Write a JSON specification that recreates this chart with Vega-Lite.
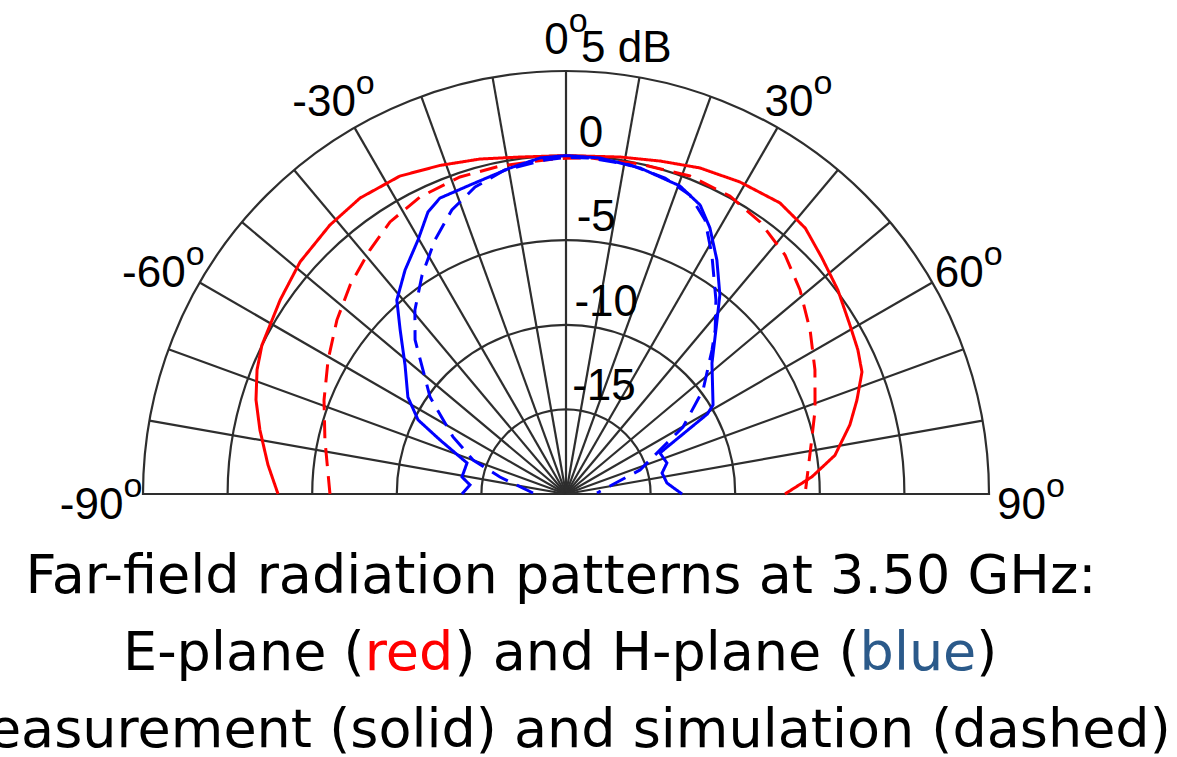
{
  "$schema": "https://vega.github.io/schema/vega-lite/v6.json",
  "width": 1177,
  "height": 757,
  "padding": 0,
  "autosize": {"type": "none"},
  "background": "white",
  "config": {
    "view": {"stroke": null},
    "axis": {"disable": true}
  },
  "datasets": {
    "patterns": [
      {"plane": "E-plane", "method": "measurement", "angle": -90, "db": -2.98},
      {"plane": "E-plane", "method": "measurement", "angle": -84.4, "db": -2.3},
      {"plane": "E-plane", "method": "measurement", "angle": -78.2, "db": -1.52},
      {"plane": "E-plane", "method": "measurement", "angle": -73.1, "db": -0.85},
      {"plane": "E-plane", "method": "measurement", "angle": -68.1, "db": -0.32},
      {"plane": "E-plane", "method": "measurement", "angle": -63.9, "db": 0.01},
      {"plane": "E-plane", "method": "measurement", "angle": -55.8, "db": 0.42},
      {"plane": "E-plane", "method": "measurement", "angle": -48.9, "db": 0.86},
      {"plane": "E-plane", "method": "measurement", "angle": -41.3, "db": 1.15},
      {"plane": "E-plane", "method": "measurement", "angle": -34.8, "db": 1.31},
      {"plane": "E-plane", "method": "measurement", "angle": -27.6, "db": 1.2},
      {"plane": "E-plane", "method": "measurement", "angle": -21.0, "db": 0.8},
      {"plane": "E-plane", "method": "measurement", "angle": -14.4, "db": 0.44},
      {"plane": "E-plane", "method": "measurement", "angle": -7.8, "db": 0.1},
      {"plane": "E-plane", "method": "measurement", "angle": 0, "db": 0},
      {"plane": "E-plane", "method": "measurement", "angle": 9.1, "db": 0.17},
      {"plane": "E-plane", "method": "measurement", "angle": 15.8, "db": 0.45},
      {"plane": "E-plane", "method": "measurement", "angle": 22.3, "db": 0.83},
      {"plane": "E-plane", "method": "measurement", "angle": 29.1, "db": 1.11},
      {"plane": "E-plane", "method": "measurement", "angle": 36.3, "db": 1.35},
      {"plane": "E-plane", "method": "measurement", "angle": 42.0, "db": 1.14},
      {"plane": "E-plane", "method": "measurement", "angle": 47.3, "db": 0.58},
      {"plane": "E-plane", "method": "measurement", "angle": 53.1, "db": 0.09},
      {"plane": "E-plane", "method": "measurement", "angle": 59.2, "db": -0.47},
      {"plane": "E-plane", "method": "measurement", "angle": 63.7, "db": -0.76},
      {"plane": "E-plane", "method": "measurement", "angle": 67.6, "db": -1.08},
      {"plane": "E-plane", "method": "measurement", "angle": 72.1, "db": -1.93},
      {"plane": "E-plane", "method": "measurement", "angle": 76.3, "db": -2.73},
      {"plane": "E-plane", "method": "measurement", "angle": 81.8, "db": -3.94},
      {"plane": "E-plane", "method": "measurement", "angle": 86.0, "db": -5.43},
      {"plane": "E-plane", "method": "measurement", "angle": 90, "db": -7.06},

      {"plane": "E-plane", "method": "simulation", "angle": -90, "db": -6.05},
      {"plane": "E-plane", "method": "simulation", "angle": -77.4, "db": -5.4},
      {"plane": "E-plane", "method": "simulation", "angle": -68.8, "db": -4.66},
      {"plane": "E-plane", "method": "simulation", "angle": -60.6, "db": -3.86},
      {"plane": "E-plane", "method": "simulation", "angle": -52.8, "db": -3.0},
      {"plane": "E-plane", "method": "simulation", "angle": -45.9, "db": -2.24},
      {"plane": "E-plane", "method": "simulation", "angle": -38.8, "db": -1.5},
      {"plane": "E-plane", "method": "simulation", "angle": -32.9, "db": -0.85},
      {"plane": "E-plane", "method": "simulation", "angle": -26.2, "db": -0.44},
      {"plane": "E-plane", "method": "simulation", "angle": -18.5, "db": -0.24},
      {"plane": "E-plane", "method": "simulation", "angle": -11.4, "db": -0.23},
      {"plane": "E-plane", "method": "simulation", "angle": -3.6, "db": -0.22},
      {"plane": "E-plane", "method": "simulation", "angle": 0, "db": -0.15},
      {"plane": "E-plane", "method": "simulation", "angle": 4.1, "db": -0.09},
      {"plane": "E-plane", "method": "simulation", "angle": 12.6, "db": -0.01},
      {"plane": "E-plane", "method": "simulation", "angle": 21.3, "db": 0.17},
      {"plane": "E-plane", "method": "simulation", "angle": 28.8, "db": 0.1},
      {"plane": "E-plane", "method": "simulation", "angle": 35.5, "db": -0.25},
      {"plane": "E-plane", "method": "simulation", "angle": 42.5, "db": -0.84},
      {"plane": "E-plane", "method": "simulation", "angle": 48.9, "db": -1.65},
      {"plane": "E-plane", "method": "simulation", "angle": 56.1, "db": -2.62},
      {"plane": "E-plane", "method": "simulation", "angle": 63.5, "db": -3.56},
      {"plane": "E-plane", "method": "simulation", "angle": 71.4, "db": -4.47},
      {"plane": "E-plane", "method": "simulation", "angle": 78.7, "db": -5.23},
      {"plane": "E-plane", "method": "simulation", "angle": 90, "db": -5.87},

      {"plane": "H-plane", "method": "measurement", "angle": -90, "db": -13.85},
      {"plane": "H-plane", "method": "measurement", "angle": -84.6, "db": -14.3},
      {"plane": "H-plane", "method": "measurement", "angle": -80.7, "db": -13.77},
      {"plane": "H-plane", "method": "measurement", "angle": -72.6, "db": -13.87},
      {"plane": "H-plane", "method": "measurement", "angle": -66.8, "db": -11.9},
      {"plane": "H-plane", "method": "measurement", "angle": -63.4, "db": -10.22},
      {"plane": "H-plane", "method": "measurement", "angle": -58.5, "db": -9.04},
      {"plane": "H-plane", "method": "measurement", "angle": -51.3, "db": -7.81},
      {"plane": "H-plane", "method": "measurement", "angle": -45.3, "db": -6.21},
      {"plane": "H-plane", "method": "measurement", "angle": -41.1, "db": -4.79},
      {"plane": "H-plane", "method": "measurement", "angle": -35.7, "db": -3.7},
      {"plane": "H-plane", "method": "measurement", "angle": -30.2, "db": -2.62},
      {"plane": "H-plane", "method": "measurement", "angle": -26.1, "db": -1.45},
      {"plane": "H-plane", "method": "measurement", "angle": -23.1, "db": -0.99},
      {"plane": "H-plane", "method": "measurement", "angle": -17.3, "db": -0.88},
      {"plane": "H-plane", "method": "measurement", "angle": -9.7, "db": -0.45},
      {"plane": "H-plane", "method": "measurement", "angle": -4.4, "db": -0.08},
      {"plane": "H-plane", "method": "measurement", "angle": 0, "db": 0},
      {"plane": "H-plane", "method": "measurement", "angle": 5.8, "db": -0.04},
      {"plane": "H-plane", "method": "measurement", "angle": 12.8, "db": -0.24},
      {"plane": "H-plane", "method": "measurement", "angle": 20.3, "db": -0.59},
      {"plane": "H-plane", "method": "measurement", "angle": 24.9, "db": -1.17},
      {"plane": "H-plane", "method": "measurement", "angle": 28.4, "db": -2.12},
      {"plane": "H-plane", "method": "measurement", "angle": 32.8, "db": -3.54},
      {"plane": "H-plane", "method": "measurement", "angle": 37.7, "db": -5.13},
      {"plane": "H-plane", "method": "measurement", "angle": 42.4, "db": -6.86},
      {"plane": "H-plane", "method": "measurement", "angle": 48.1, "db": -8.41},
      {"plane": "H-plane", "method": "measurement", "angle": 58.8, "db": -9.84},
      {"plane": "H-plane", "method": "measurement", "angle": 60.5, "db": -10.4},
      {"plane": "H-plane", "method": "measurement", "angle": 66.4, "db": -13.94},
      {"plane": "H-plane", "method": "measurement", "angle": 72.9, "db": -13.76},
      {"plane": "H-plane", "method": "measurement", "angle": 77.7, "db": -14.19},
      {"plane": "H-plane", "method": "measurement", "angle": 83.8, "db": -14.0},
      {"plane": "H-plane", "method": "measurement", "angle": 90, "db": -13.14},

      {"plane": "H-plane", "method": "simulation", "angle": -88.3, "db": -18.05},
      {"plane": "H-plane", "method": "simulation", "angle": -75.6, "db": -15.97},
      {"plane": "H-plane", "method": "simulation", "angle": -69.9, "db": -14.15},
      {"plane": "H-plane", "method": "simulation", "angle": -63.2, "db": -12.52},
      {"plane": "H-plane", "method": "simulation", "angle": -54.5, "db": -10.13},
      {"plane": "H-plane", "method": "simulation", "angle": -44.4, "db": -7.25},
      {"plane": "H-plane", "method": "simulation", "angle": -39.4, "db": -5.93},
      {"plane": "H-plane", "method": "simulation", "angle": -33.3, "db": -4.51},
      {"plane": "H-plane", "method": "simulation", "angle": -27.3, "db": -3.11},
      {"plane": "H-plane", "method": "simulation", "angle": -21.9, "db": -1.91},
      {"plane": "H-plane", "method": "simulation", "angle": -16.5, "db": -1.08},
      {"plane": "H-plane", "method": "simulation", "angle": -10.7, "db": -0.51},
      {"plane": "H-plane", "method": "simulation", "angle": -3.6, "db": -0.22},
      {"plane": "H-plane", "method": "simulation", "angle": 0, "db": -0.1},
      {"plane": "H-plane", "method": "simulation", "angle": 4.1, "db": -0.09},
      {"plane": "H-plane", "method": "simulation", "angle": 11.0, "db": -0.19},
      {"plane": "H-plane", "method": "simulation", "angle": 17.4, "db": -0.43},
      {"plane": "H-plane", "method": "simulation", "angle": 22.5, "db": -0.87},
      {"plane": "H-plane", "method": "simulation", "angle": 26.9, "db": -1.84},
      {"plane": "H-plane", "method": "simulation", "angle": 31.4, "db": -3.45},
      {"plane": "H-plane", "method": "simulation", "angle": 37.7, "db": -5.51},
      {"plane": "H-plane", "method": "simulation", "angle": 42.3, "db": -6.9},
      {"plane": "H-plane", "method": "simulation", "angle": 45.4, "db": -7.88},
      {"plane": "H-plane", "method": "simulation", "angle": 52.8, "db": -9.83},
      {"plane": "H-plane", "method": "simulation", "angle": 60.2, "db": -12.03},
      {"plane": "H-plane", "method": "simulation", "angle": 72.0, "db": -15.4},
      {"plane": "H-plane", "method": "simulation", "angle": 88.2, "db": -18.17}
    ],
    "rings": [
      {"db": -15, "label": "-15"},
      {"db": -10, "label": "-10"},
      {"db": -5, "label": "-5"},
      {"db": 0, "label": "0"},
      {"db": 5, "label": "5 dB"}
    ],
    "spokes": [
      {"angle": -90}, {"angle": -80}, {"angle": -70}, {"angle": -60}, {"angle": -50},
      {"angle": -40}, {"angle": -30}, {"angle": -20}, {"angle": -10}, {"angle": 0},
      {"angle": 10}, {"angle": 20}, {"angle": 30}, {"angle": 40}, {"angle": 50},
      {"angle": 60}, {"angle": 70}, {"angle": 80}, {"angle": 90}
    ],
    "angleLabels": [
      {"angle": -90, "label": "-90"},
      {"angle": -60, "label": "-60"},
      {"angle": -30, "label": "-30"},
      {"angle": 0, "label": "0"},
      {"angle": 30, "label": "30"},
      {"angle": 60, "label": "60"},
      {"angle": 90, "label": "90"}
    ],
    "caption": [
      {"part": "line1", "t": "Far-field radiation patterns at 3.50 GHz:"},
      {"part": "line2a", "t": "E-plane ("},
      {"part": "line2b", "t": "red"},
      {"part": "line2c", "t": ") and H-plane ("},
      {"part": "line2d", "t": "blue"},
      {"part": "line2e", "t": ")"},
      {"part": "line3", "t": "Measurement (solid) and simulation (dashed)"}
    ]
  },
  "layer": [
    {
      "description": "Range rings every 5 dB; the plot centre sits at -20 dB",
      "data": {"name": "rings"},
      "transform": [
        {"calculate": "datum.db + 20", "as": "r"},
        {"calculate": "0", "as": "ox"}
      ],
      "mark": {"type": "arc", "filled": false, "stroke": "#2e2e2e", "strokeWidth": 2.2,
               "theta": -1.5708, "theta2": 1.5708},
      "encoding": {
        "x": {"field": "ox", "type": "quantitative", "axis": null,
              "scale": {"domain": [-33.452, 36.111], "nice": false, "zero": false}},
        "y": {"field": "ox", "type": "quantitative", "axis": null,
              "scale": {"domain": [-15.544, 29.196], "nice": false, "zero": false}},
        "radius": {"field": "r", "type": "quantitative", "stack": null,
                   "scale": {"type": "linear", "domain": [0, 25], "range": [0, 423], "zero": true}}
      }
    },
    {
      "description": "Angular spokes every 10 degrees",
      "data": {"name": "spokes"},
      "transform": [
        {"calculate": "0", "as": "ox"},
        {"calculate": "25 * sin(datum.angle * PI / 180)", "as": "ex"},
        {"calculate": "25 * cos(datum.angle * PI / 180)", "as": "ey"}
      ],
      "mark": {"type": "rule", "color": "#2e2e2e", "strokeWidth": 2.2},
      "encoding": {
        "x": {"field": "ox", "type": "quantitative"},
        "y": {"field": "ox", "type": "quantitative"},
        "x2": {"field": "ex"},
        "y2": {"field": "ey"}
      }
    },
    {
      "description": "Radiation patterns, polar (angle, dB) mapped onto the plane",
      "data": {"name": "patterns"},
      "transform": [
        {"calculate": "datum.db + 20", "as": "r"},
        {"calculate": "datum.r * sin(datum.angle * PI / 180)", "as": "px"},
        {"calculate": "datum.r * cos(datum.angle * PI / 180)", "as": "py"}
      ],
      "mark": {"type": "line", "strokeWidth": 3},
      "encoding": {
        "x": {"field": "px", "type": "quantitative"},
        "y": {"field": "py", "type": "quantitative"},
        "color": {"field": "plane", "type": "nominal", "legend": null,
                  "scale": {"domain": ["E-plane", "H-plane"], "range": ["#ff0000", "#0000ff"]}},
        "strokeDash": {"field": "method", "type": "nominal", "legend": null,
                       "scale": {"domain": ["measurement", "simulation"], "range": [[1, 0], [18, 10]]}},
        "order": {"field": "angle", "type": "quantitative"}
      }
    },
    {
      "description": "Ring labels along the 0 degree spoke",
      "data": {"name": "rings"},
      "transform": [
        {"calculate": "datum.db + 20", "as": "r"},
        {"calculate": "datum.r * sin(1.5 * PI / 180)", "as": "lx"},
        {"calculate": "datum.r * cos(1.5 * PI / 180)", "as": "ly"}
      ],
      "mark": {"type": "text", "font": "Liberation Sans", "fontSize": 44, "color": "black",
               "align": "left", "baseline": "alphabetic", "dx": 4, "dy": -9},
      "encoding": {
        "x": {"field": "lx", "type": "quantitative"},
        "y": {"field": "ly", "type": "quantitative"},
        "text": {"field": "label", "type": "nominal"}
      }
    },
    {
      "description": "Angle labels: the number ends where the degree mark begins",
      "data": {"name": "angleLabels"},
      "transform": [
        {"calculate": "24.46 * length(replace(datum.label, '-', '')) + (indexof(datum.label, '-') >= 0 ? 14.65 : 0)", "as": "w"},
        {"calculate": "27.48 * sin(datum.angle * PI / 180) + (datum.w - 18.9) / 2 / 16.92", "as": "jx"},
        {"calculate": "27.48 * cos(datum.angle * PI / 180)", "as": "jy"}
      ],
      "mark": {"type": "text", "font": "Liberation Sans", "fontSize": 44, "color": "black",
               "align": "right", "baseline": "alphabetic", "dy": 25},
      "encoding": {
        "x": {"field": "jx", "type": "quantitative"},
        "y": {"field": "jy", "type": "quantitative"},
        "text": {"field": "label", "type": "nominal"}
      }
    },
    {
      "description": "Superscript degree marks",
      "data": {"name": "angleLabels"},
      "transform": [
        {"calculate": "24.46 * length(replace(datum.label, '-', '')) + (indexof(datum.label, '-') >= 0 ? 14.65 : 0)", "as": "w"},
        {"calculate": "27.48 * sin(datum.angle * PI / 180) + (datum.w - 18.9) / 2 / 16.92", "as": "jx"},
        {"calculate": "27.48 * cos(datum.angle * PI / 180)", "as": "jy"},
        {"calculate": "'o'", "as": "deg"}
      ],
      "mark": {"type": "text", "font": "Liberation Sans", "fontSize": 34, "color": "black",
               "align": "left", "baseline": "alphabetic", "dy": 3},
      "encoding": {
        "x": {"field": "jx", "type": "quantitative"},
        "y": {"field": "jy", "type": "quantitative"},
        "text": {"field": "deg", "type": "nominal"}
      }
    },
    {
      "data": {"name": "caption"},
      "transform": [
        {"filter": "datum.part === 'line1'"},
        {"calculate": "-0.2955", "as": "cx"},
        {"calculate": "-5.851", "as": "cy"}
      ],
      "mark": {"type": "text", "font": "DejaVu Sans", "fontSize": 54, "color": "black",
               "align": "center", "baseline": "alphabetic"},
      "encoding": {
        "x": {"field": "cx", "type": "quantitative"},
        "y": {"field": "cy", "type": "quantitative"},
        "text": {"field": "t", "type": "nominal"}
      }
    },
    {
      "data": {"name": "caption"},
      "transform": [
        {"filter": "datum.part === 'line2a'"},
        {"calculate": "-26.182", "as": "cx"},
        {"calculate": "-10.402", "as": "cy"}
      ],
      "mark": {"type": "text", "font": "DejaVu Sans", "fontSize": 54, "color": "black",
               "align": "left", "baseline": "alphabetic"},
      "encoding": {
        "x": {"field": "cx", "type": "quantitative"},
        "y": {"field": "cy", "type": "quantitative"},
        "text": {"field": "t", "type": "nominal"}
      }
    },
    {
      "data": {"name": "caption"},
      "transform": [
        {"filter": "datum.part === 'line2b'"},
        {"calculate": "-11.897", "as": "cx"},
        {"calculate": "-10.402", "as": "cy"}
      ],
      "mark": {"type": "text", "font": "DejaVu Sans", "fontSize": 54, "color": "#ff0000",
               "align": "left", "baseline": "alphabetic"},
      "encoding": {
        "x": {"field": "cx", "type": "quantitative"},
        "y": {"field": "cy", "type": "quantitative"},
        "text": {"field": "t", "type": "nominal"}
      }
    },
    {
      "data": {"name": "caption"},
      "transform": [
        {"filter": "datum.part === 'line2c'"},
        {"calculate": "-6.596", "as": "cx"},
        {"calculate": "-10.402", "as": "cy"}
      ],
      "mark": {"type": "text", "font": "DejaVu Sans", "fontSize": 54, "color": "black",
               "align": "left", "baseline": "alphabetic"},
      "encoding": {
        "x": {"field": "cx", "type": "quantitative"},
        "y": {"field": "cy", "type": "quantitative"},
        "text": {"field": "t", "type": "nominal"}
      }
    },
    {
      "data": {"name": "caption"},
      "transform": [
        {"filter": "datum.part === 'line2d'"},
        {"calculate": "17.352", "as": "cx"},
        {"calculate": "-10.402", "as": "cy"}
      ],
      "mark": {"type": "text", "font": "DejaVu Sans", "fontSize": 54, "color": "#2b5a8a",
               "align": "left", "baseline": "alphabetic"},
      "encoding": {
        "x": {"field": "cx", "type": "quantitative"},
        "y": {"field": "cy", "type": "quantitative"},
        "text": {"field": "t", "type": "nominal"}
      }
    },
    {
      "data": {"name": "caption"},
      "transform": [
        {"filter": "datum.part === 'line2e'"},
        {"calculate": "24.249", "as": "cx"},
        {"calculate": "-10.402", "as": "cy"}
      ],
      "mark": {"type": "text", "font": "DejaVu Sans", "fontSize": 54, "color": "black",
               "align": "left", "baseline": "alphabetic"},
      "encoding": {
        "x": {"field": "cx", "type": "quantitative"},
        "y": {"field": "cy", "type": "quantitative"},
        "text": {"field": "t", "type": "nominal"}
      }
    },
    {
      "data": {"name": "caption"},
      "transform": [
        {"filter": "datum.part === 'line3'"},
        {"calculate": "-0.591", "as": "cx"},
        {"calculate": "-14.953", "as": "cy"}
      ],
      "mark": {"type": "text", "font": "DejaVu Sans", "fontSize": 54, "color": "black",
               "align": "center", "baseline": "alphabetic"},
      "encoding": {
        "x": {"field": "cx", "type": "quantitative"},
        "y": {"field": "cy", "type": "quantitative"},
        "text": {"field": "t", "type": "nominal"}
      }
    }
  ]
}
